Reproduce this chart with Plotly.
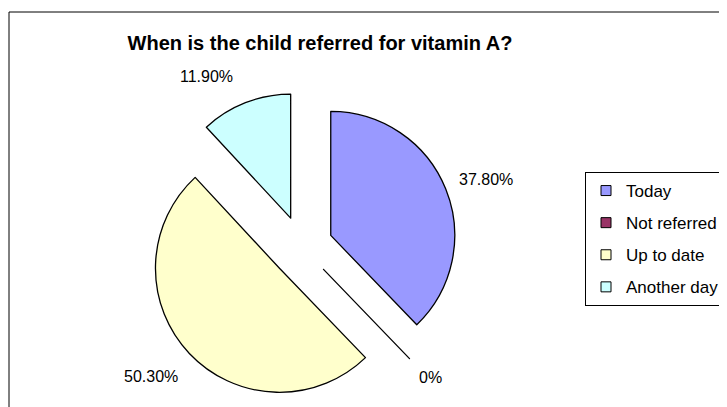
import plotly.graph_objects as go

categories = ["Today", "Not referred", "Up to date", "Another day"]
values = [37.8, 0.0, 50.3, 11.9]
value_labels = ["37.80%", "0%", "50.30%", "11.90%"]
colors = ["#9999FF", "#993366", "#FFFFCC", "#CCFFFF"]
title_text = "When is the child referred for vitamin A?"

# page has an 8px body margin: figure covers the viewport from (8, 8)
OFF = 8
W, H = 727 - OFF, 407 - OFF
FONT = "Liberation Sans, Arial, sans-serif"

def px(x):
    return (x - OFF) / W

def py(y):
    return 1 - (y - OFF) / H

# label anchor positions (page pixels) as placed in the original layout
label_pos = [(486, 179), (430, 377), (151, 376), (206, 76)]

fig = go.Figure()

fig.add_trace(go.Pie(
    labels=categories,
    values=values,
    textinfo="none",
    sort=False,
    direction="clockwise",
    rotation=0,
    pull=[0.25] * len(values),
    marker=dict(colors=colors, line=dict(color="#000000", width=1.3)),
    domain=dict(x=[px(147), px(457)], y=[py(402), py(92)]),
    showlegend=False,
    hoverinfo="label+percent",
))

# legend entries (one group each so that spacing can be controlled)
for name, col in zip(categories, colors):
    fig.add_trace(go.Scatter(
        x=[None], y=[None], mode="markers", name=name,
        legendgroup=name,
        marker=dict(symbol="square", size=10, color=col,
                    line=dict(color="#000000", width=1)),
        showlegend=True,
    ))

annotations = []
for txt, (lx, ly) in zip(value_labels, label_pos):
    annotations.append(dict(
        text=txt, x=px(lx), y=py(ly), xref="paper", yref="paper",
        xanchor="center", yanchor="middle", showarrow=False,
        font=dict(family=FONT, size=16, color="#000000"),
    ))

fig.update_layout(
    width=W, height=H,
    margin=dict(l=0, r=0, t=0, b=0, autoexpand=False),
    paper_bgcolor="#FFFFFF",
    plot_bgcolor="#FFFFFF",
    xaxis=dict(visible=False),
    yaxis=dict(visible=False),
    title=dict(text="<b>" + title_text + "</b>",
               font=dict(family=FONT, size=20, color="#000000"),
               x=px(320), xanchor="center",
               y=py(43), yanchor="middle"),
    legend=dict(
        x=px(585), xanchor="left",
        y=py(172), yanchor="top",
        bgcolor="#FFFFFF",
        bordercolor="#000000", borderwidth=1,
        font=dict(family=FONT, size=17, color="#000000"),
        tracegroupgap=7,
        traceorder="grouped",
        itemsizing="trace",
        entrywidth=110,
        entrywidthmode="pixels",
    ),
    annotations=annotations,
    shapes=[dict(type="rect", xref="paper", yref="paper",
                 x0=px(9), x1=1.01, y0=-0.01, y1=py(12),
                 line=dict(color="#000000", width=1), fillcolor="rgba(0,0,0,0)",
                 layer="below")],
)

fig.write_html("out.html")
